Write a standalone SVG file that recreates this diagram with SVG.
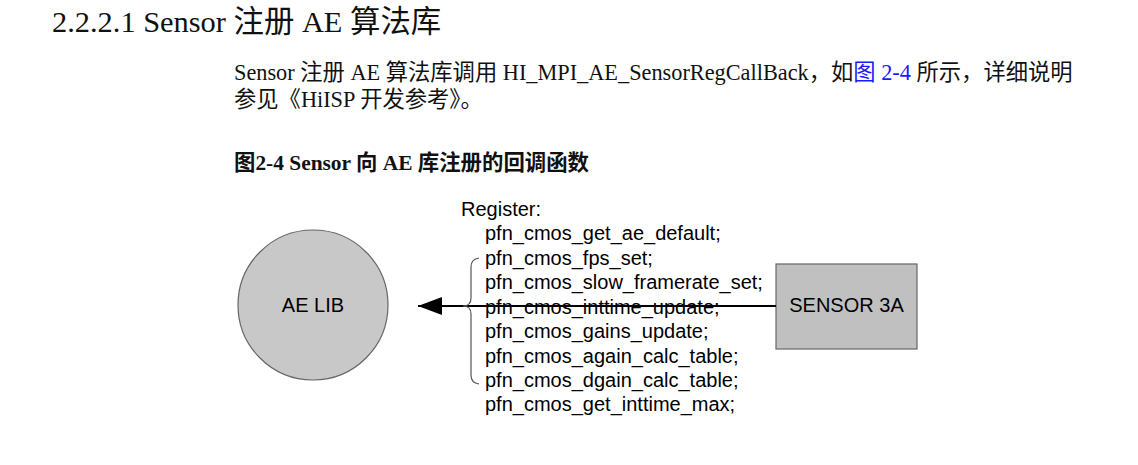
<svg xmlns="http://www.w3.org/2000/svg" width="1138" height="465" viewBox="0 0 1138 465">
<style>
.s{font-family:"Liberation Serif","Noto Sans CJK SC",serif;fill:#111}
.d{font-family:"Liberation Sans",Arial,sans-serif;font-size:20px;fill:#000}
.c{font-family:"Liberation Serif","Noto Sans CJK SC",serif;font-size:21.4px;fill:#111;font-weight:bold}
</style>
<defs><marker id="a" markerWidth="26" markerHeight="18" refX="24" refY="9" orient="auto" markerUnits="userSpaceOnUse"><path d="M24,9 L0,0 L0,18 Z" fill="#000"/></marker></defs>
<rect width="1138" height="465" fill="#fff"/>
<text class="s" x="52" y="32" font-size="30.4">2.2.2.1 Sensor 注册 AE 算法库</text>
<text class="s" x="234" y="80" font-size="22.3">Sensor 注册 AE 算法库调用 HI_MPI_AE_SensorRegCallBack，如<tspan fill="#1a1aff">图 2-4</tspan> 所示，详细说明</text>
<text class="s" x="234" y="107" font-size="22.3">参见《HiISP 开发参考》。</text>
<text class="c" x="234" y="170">图2-4  Sensor 向 AE 库注册的回调函数</text>
<g id="aelib"><circle cx="313" cy="305" r="75" fill="#c8c8c8" stroke="#666" stroke-width="1.2"/><text class="d" x="313" y="312" text-anchor="middle">AE LIB</text></g>
<g id="sensor3a"><rect x="776" y="264" width="141" height="85" fill="#c0c0c0" stroke="#666" stroke-width="1.2"/><text class="d" x="846.5" y="312" text-anchor="middle">SENSOR 3A</text></g>
<g id="connectors">
<path d="M776,306 L418,306" stroke="#000" stroke-width="2" fill="none" marker-end="url(#a)"/>
<path d="M479,258 Q471,259 471,267 L471,298 Q471,306 463,306 Q471,306 471,314 L471,375 Q471,383 479,384" stroke="#555" stroke-width="1.2" fill="none"/>
</g>
<g id="labels">
<text class="d" x="461" y="216">Register:</text>
<text class="d" x="485" y="240">pfn_cmos_get_ae_default;</text>
<text class="d" x="485" y="265">pfn_cmos_fps_set;</text>
<text class="d" x="485" y="289">pfn_cmos_slow_framerate_set;</text>
<text class="d" x="485" y="314">pfn_cmos_inttime_update;</text>
<text class="d" x="485" y="338">pfn_cmos_gains_update;</text>
<text class="d" x="485" y="363">pfn_cmos_again_calc_table;</text>
<text class="d" x="485" y="387">pfn_cmos_dgain_calc_table;</text>
<text class="d" x="485" y="411">pfn_cmos_get_inttime_max;</text>
</g>
</svg>
